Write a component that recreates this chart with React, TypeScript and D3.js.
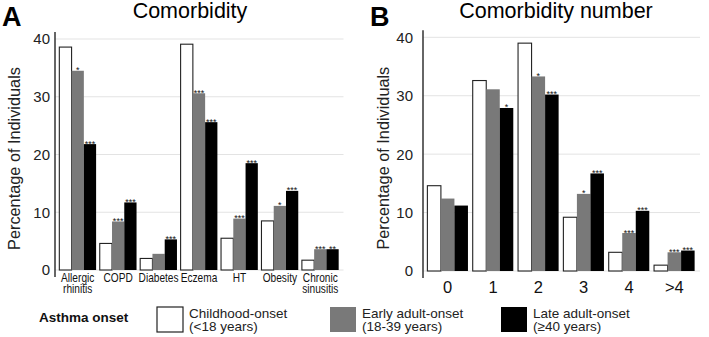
import * as d3 from 'd3';

// Panel A: comorbidity prevalence (% of individuals)
const comorbidities = ['Allergic rhinitis', 'COPD', 'Diabetes', 'Eczema', 'HT', 'Obesity', 'Chronic sinusitis'];
const childhoodA = [38.6, 4.6, 2.0, 39.1, 5.5, 8.5, 1.7];
const earlyA = [34.5, 8.4, 2.8, 30.6, 8.9, 11.1, 3.6];
const lateA = [21.8, 11.7, 5.3, 25.6, 18.5, 13.7, 3.6];
const sigEarlyA = ['*', '***', '', '***', '***', '*', '***'];
const sigLateA = ['***', '***', '***', '***', '***', '***', '**'];

// Panel B: number of comorbidities
const comorbidityNumbers = ['0', '1', '2', '3', '4', '>4'];
const childhoodB = [14.6, 32.6, 39.0, 9.2, 3.2, 1.0];
const earlyB = [12.4, 31.1, 33.3, 13.2, 6.5, 3.2];
const lateB = [11.2, 27.9, 30.2, 16.7, 10.3, 3.5];
const sigEarlyB = ['', '', '*', '*', '***', '***'];
const sigLateB = ['', '*', '***', '***', '***', '***'];

const yTicks = [0, 10, 20, 30, 40];
const groups = ['childhood', 'early', 'late'];
const groupLabels = [
  ['Childhood-onset', '(<18 years)'],
  ['Early adult-onset', '(18-39 years)'],
  ['Late adult-onset', '(≥40 years)'],
];
const fills = ['#ffffff', '#797979', '#000000'];

const FONT = 'Liberation Sans, Arial, sans-serif';

function Panel({ letter, title, titleX, cats, series, sigs, xRange, yRange, axisX, tickEnd, ylabelX, catFont, catBaseline, bandPad }) {
  const x = d3.scaleBand().domain(cats).range(xRange).paddingInner(bandPad).paddingOuter(bandPad / 2);
  const sub = d3.scaleBand().domain(groups).range([0, x.bandwidth()]).padding(0);
  const y = d3.scaleLinear().domain([0, 40]).range(yRange);
  const letterX = axisX - 53;
  const small = catFont < 14;

  return (
    <g>
      <text x={letterX} y={26} fontFamily={FONT} fontWeight="bold" fontSize={27}>{letter}</text>
      <text x={titleX} y={18} fontFamily={FONT} fontSize={21.5} textAnchor="middle">{title}</text>

      {/* gridlines */}
      {yTicks.map((t) => (
        <line key={t} x1={axisX} x2={xRange[1] + 3} y1={y(t)} y2={y(t)} stroke="#e3e3e3" strokeWidth={1} />
      ))}

      {/* y axis */}
      <line x1={axisX} x2={axisX} y1={y(40) - 7} y2={y(0) + 7} stroke="#333" strokeWidth={1.5} />
      {yTicks.map((t) => (
        <text key={t} x={tickEnd} y={y(t)} dy="0.36em" textAnchor="end" fontFamily={FONT} fontSize={15} fill="#222">{t}</text>
      ))}
      <text
        transform={`translate(${ylabelX},${(y(0) + y(40)) / 2 + 4}) rotate(-90)`}
        textAnchor="middle"
        fontFamily={FONT}
        fontSize={16.3}
        fill="#222"
      >
        Percentage of Individuals
      </text>

      {/* bars */}
      {cats.map((c, i) => (
        <g key={c} transform={`translate(${x(c)},0)`}>
          {series.map((vals, k) => (
            <rect
              key={k}
              x={sub(groups[k])}
              y={y(vals[i])}
              width={sub.bandwidth()}
              height={y(0) - y(vals[i])}
              fill={fills[k]}
              stroke={k === 0 ? '#222' : 'none'}
              strokeWidth={1.1}
            />
          ))}
          {sigs.map((s, k) =>
            s[i] ? (
              <text
                key={'s' + k}
                x={sub(groups[k + 1]) + sub.bandwidth() / 2}
                y={y(series[k + 1][i]) + 2.5}
                textAnchor="middle"
                fontFamily={FONT}
                fontSize={9}
                fill="#111"
              >
                {s[i]}
              </text>
            ) : null
          )}
          {(small ? c.split(' ') : [c]).map((line, j) => (
            <text
              key={'l' + j}
              transform={`translate(${x.bandwidth() / 2},${catBaseline + j * 11.5}) scale(${small ? 0.78 : 1},1)`}
              textAnchor="middle"
              fontFamily={FONT}
              fontSize={catFont}
              fill="#111"
            >
              {line}
            </text>
          ))}
        </g>
      ))}
    </g>
  );
}

export default function App() {
  const legendBoxX = [157, 330, 501];
  return (
    <svg width={709} height={337} style={{ position: 'absolute', left: 0, top: 0, background: '#fff' }}>
      <rect width={709} height={337} fill="#fff" />
      <Panel
        letter="A"
        title="Comorbidity"
        titleX={190}
        cats={comorbidities}
        series={[childhoodA, earlyA, lateA]}
        sigs={[sigEarlyA, sigLateA]}
        xRange={[57.5, 340.5]}
        yRange={[270, 39]}
        axisX={55}
        tickEnd={50}
        ylabelX={20}
        catFont={13}
        catBaseline={281.5}
        bandPad={0.09}
      />
      <Panel
        letter="B"
        title="Comorbidity number"
        titleX={556}
        cats={comorbidityNumbers}
        series={[childhoodB, earlyB, lateB]}
        sigs={[sigEarlyB, sigLateB]}
        xRange={[425, 697]}
        yRange={[271, 37.3]}
        axisX={423}
        tickEnd={413}
        ylabelX={389}
        catFont={16.5}
        catBaseline={293}
        bandPad={0.105}
      />

      {/* legend */}
      <text x={39} y={322} fontFamily={FONT} fontWeight="bold" fontSize={13.5} fill="#111">Asthma onset</text>
      {groupLabels.map((lbl, k) => (
        <g key={k}>
          <rect
            x={legendBoxX[k]}
            y={307}
            width={26}
            height={25}
            fill={fills[k]}
            stroke={k === 0 ? '#222' : 'none'}
            strokeWidth={1.2}
          />
          {lbl.map((line, j) => (
            <text
              key={j}
              x={legendBoxX[k] + 32}
              y={317.5 + j * 13}
              fontFamily={FONT}
              fontSize={13.5}
              fill="#222"
            >
              {line}
            </text>
          ))}
        </g>
      ))}
    </svg>
  );
}
